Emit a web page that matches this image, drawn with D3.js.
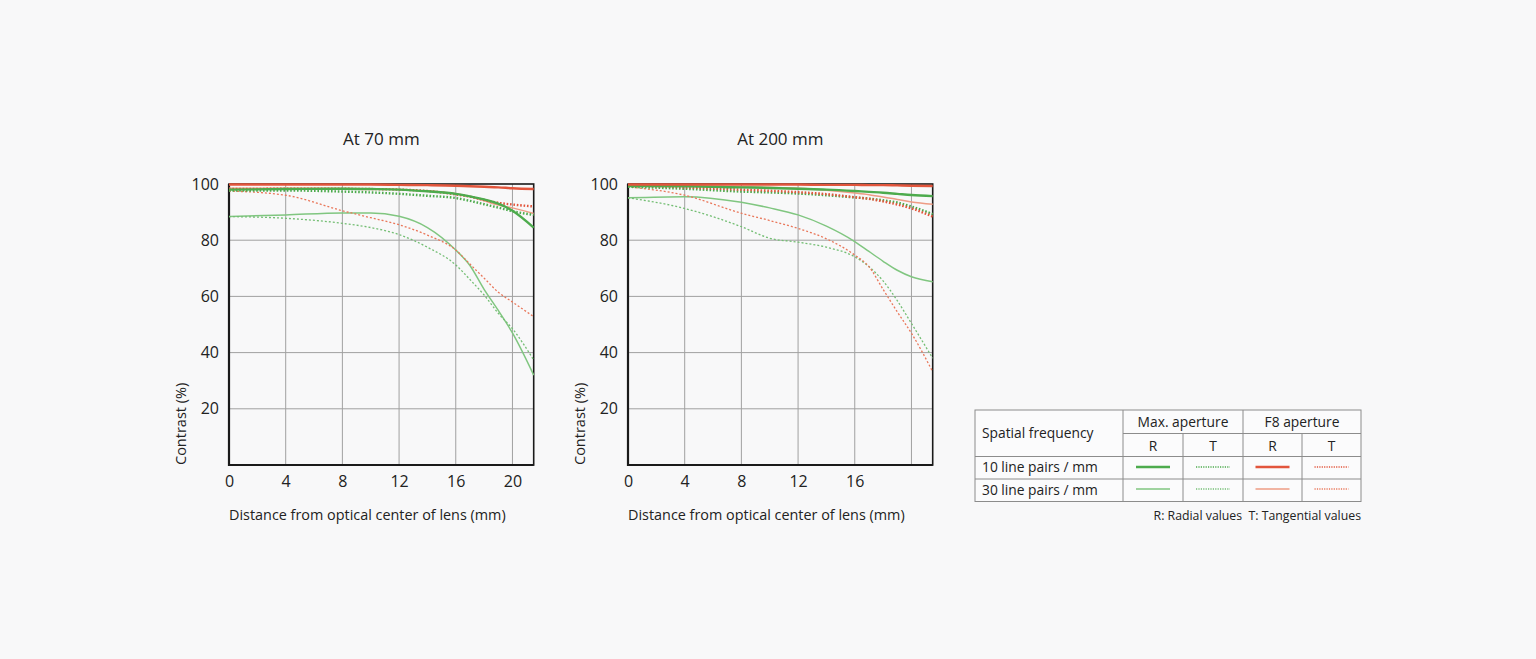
<!DOCTYPE html>
<html>
<head>
<meta charset="utf-8">
<script src="https://cdn.jsdelivr.net/npm/d3@7"></script>
<style>
  body { margin: 0; background: #f8f8f9; font-family: "Open Sans", sans-serif; }
  svg text { fill: #222; }
</style>
</head>
<body>
<script>
//MTF chart data (contrast in %)
var distances = [0, 4, 8, 10, 12, 14, 16, 17, 18, 19, 20, 21.5];
var yTicks = [20, 40, 60, 80, 100];
var gridX = [4, 8, 12, 16, 20];
var gridY = [20, 40, 60, 80];
var xTicks70 = [0, 4, 8, 12, 16, 20];
var xTicks200 = [0, 4, 8, 12, 16];

//At 70 mm
var t70_max10R = [98, 98.2, 98.3, 98.2, 98, 97.4, 96.5, 95.6, 94.5, 93, 90.5, 84.5];
var t70_max10T = [97.7, 97.7, 97.3, 97, 96.5, 95.8, 95, 94, 92.8, 91.6, 90.3, 89];
var t70_f810R = [99.8, 99.8, 99.8, 99.8, 99.7, 99.6, 99.4, 99.2, 99, 98.8, 98.5, 98.2];
var t70_f810T = [98.2, 98.3, 98.3, 98.2, 98, 97.5, 96.3, 95.5, 94.3, 93.3, 92.7, 92];
var t70_max30R = [88.4, 89, 89.7, 89.7, 88.5, 84.5, 76.5, 71, 62.5, 55, 47, 32];
var t70_max30T = [88.4, 87.8, 86, 84.5, 82, 77.5, 71.2, 66, 60.5, 54, 48.5, 37.4];
var t70_f830R = [98.5, 98.5, 98.4, 98.3, 98, 97.5, 96.5, 95.5, 94, 92.5, 91.5, 89.5];
var t70_f830T = [97.5, 96, 90.5, 88, 85.5, 81.8, 76.5, 71.5, 66.5, 61.5, 58, 52.8];

//At 200 mm
var t200_max10R = [99.3, 99.2, 98.8, 98.6, 98.3, 98, 97.5, 97.2, 96.9, 96.5, 96.1, 95.7];
var t200_max10T = [99, 98.3, 97.3, 97, 96.6, 96, 95.2, 94.8, 94.2, 93.4, 92, 89.3];
var t200_f810R = [99.8, 99.8, 99.8, 99.8, 99.8, 99.7, 99.7, 99.6, 99.6, 99.5, 99.4, 99.3];
var t200_f810T = [99.5, 98.8, 98, 97.6, 97.1, 96.4, 95.3, 94.7, 93.8, 92.7, 91.3, 88.4];
var t200_max30R = [95.1, 95.5, 93.5, 91.5, 89, 85, 79.5, 76, 72.5, 69.3, 67, 65.2];
var t200_max30T = [95.1, 91.3, 84.8, 80.7, 79.3, 77.5, 74.1, 70.6, 65.5, 58.5, 50.4, 38];
var t200_f830R = [99.3, 99.2, 99, 98.8, 98.5, 97.8, 96.8, 96.2, 95.4, 94.5, 93.6, 92.8];
var t200_f830T = [99, 96, 89.6, 87, 84.2, 80.5, 74.7, 70.6, 62.5, 54.5, 46.9, 33.2];

//line looks
var styles = {
  max10R: { color: "#4dab4d", width: 2.4, dash: null },
  max10T: { color: "#4dab4d", width: 2.4, dash: "1.6,1.8" },
  f810R:  { color: "#e2553c", width: 2.4, dash: null },
  f810T:  { color: "#e2553c", width: 2.4, dash: "1.6,1.8" },
  max30R: { color: "#80c680", width: 1.5, dash: null },
  max30T: { color: "#74be74", width: 1.3, dash: "2,2" },
  f830R:  { color: "#ee9c85", width: 1.5, dash: null },
  f830T:  { color: "#e9775a", width: 1.3, dash: "2,2" }
};

var series70 = [
  ["max30R", t70_max30R], ["max30T", t70_max30T], ["f830T", t70_f830T], ["f830R", t70_f830R],
  ["max10T", t70_max10T], ["f810T", t70_f810T], ["max10R", t70_max10R], ["f810R", t70_f810R]
];
var series200 = [
  ["max30R", t200_max30R], ["max30T", t200_max30T], ["f830T", t200_f830T], ["f830R", t200_f830R],
  ["max10T", t200_max10T], ["f810T", t200_f810T], ["max10R", t200_max10R], ["f810R", t200_f810R]
];

var paper = d3.select("body")
  .append("svg")
  .attr("width", 1536)
  .attr("height", 659);

function drawChart(left, title, xTicks, series) {
  var x = d3.scaleLinear().domain([0, 21.5]).range([left, left + 304.7]);
  var y = d3.scaleLinear().domain([0, 100]).range([465, 184]);
  var g = paper.append("g");

  //grid
  g.selectAll(".vgrid").data(gridX).enter()
    .append("line")
    .attr("x1", d => x(d)).attr("x2", d => x(d))
    .attr("y1", y(0)).attr("y2", y(100))
    .style("stroke", "#a0a0a0").style("stroke-width", 1);
  g.selectAll(".hgrid").data(gridY).enter()
    .append("line")
    .attr("x1", x(0)).attr("x2", x(21.5))
    .attr("y1", d => y(d)).attr("y2", d => y(d))
    .style("stroke", "#a0a0a0").style("stroke-width", 1);

  //frame
  g.append("rect")
    .attr("x", x(0)).attr("y", y(100))
    .attr("width", x(21.5) - x(0)).attr("height", y(0) - y(100))
    .style("fill", "none").style("stroke", "#1a1a1a").style("stroke-width", 1.6);
  g.append("path")
    .attr("d", "M" + x(0) + "," + y(100) + "V" + y(0) + "H" + x(21.5))
    .style("fill", "none").style("stroke", "#1a1a1a").style("stroke-width", 2.2);

  //curves
  var line = d3.line()
    .x((d, i) => x(distances[i]))
    .y(d => y(d))
    .curve(d3.curveMonotoneX);
  series.forEach(function (s) {
    var st = styles[s[0]];
    g.append("path")
      .attr("d", line(s[1]))
      .style("fill", "none")
      .style("stroke", st.color)
      .style("stroke-width", st.width)
      .style("stroke-dasharray", st.dash);
  });

  //axes
  var ay = g.append("g").attr("transform", "translate(" + x(0) + ",0)")
    .call(d3.axisLeft(y).tickValues(yTicks).tickSize(0).tickPadding(10));
  var ax = g.append("g").attr("transform", "translate(0," + y(0) + ")")
    .call(d3.axisBottom(x).tickValues(xTicks).tickSize(0).tickPadding(11));
  [ay, ax].forEach(function (a) {
    a.select(".domain").remove();
    a.selectAll("text")
      .style("font-family", "'Open Sans', sans-serif")
      .style("font-size", "16px")
      .style("fill", "#222");
  });

  //titles
  g.append("text")
    .attr("x", (x(0) + x(21.5)) / 2)
    .attr("y", 145)
    .attr("text-anchor", "middle")
    .style("font-size", "17px")
    .text(title);
  g.append("text")
    .attr("x", x(0))
    .attr("y", 520)
    .style("font-size", "14.4px")
    .text("Distance from optical center of lens (mm)");
  g.append("text")
    .attr("transform", "translate(" + (x(0) - 43) + "," + y(0) + ") rotate(-90)")
    .attr("text-anchor", "start")
    .style("font-size", "14.5px")
    .text("Contrast (%)");
}

drawChart(229, "At 70 mm", xTicks70, series70);
drawChart(628, "At 200 mm", xTicks200, series200);

//Legend table
var tl = 975, tr = 1361, tt = 410, tb = 501.5;
var colX = [1123, 1183, 1243, 1302];
var rowY = [433.5, 456.5, 479];
var legend = paper.append("g");
var gridStroke = "#8c8c8c";

legend.append("rect")
  .attr("x", tl).attr("y", tt).attr("width", tr - tl).attr("height", tb - tt)
  .style("fill", "#fbfbfc").style("stroke", gridStroke).style("stroke-width", 1);
legend.append("line").attr("x1", colX[0]).attr("x2", tr).attr("y1", rowY[0]).attr("y2", rowY[0])
  .style("stroke", gridStroke);
[rowY[1], rowY[2]].forEach(function (yy) {
  legend.append("line").attr("x1", tl).attr("x2", tr).attr("y1", yy).attr("y2", yy)
    .style("stroke", gridStroke);
});
[colX[0], colX[2]].forEach(function (xx) {
  legend.append("line").attr("x1", xx).attr("x2", xx).attr("y1", tt).attr("y2", tb)
    .style("stroke", gridStroke);
});
[colX[1], colX[3]].forEach(function (xx) {
  legend.append("line").attr("x1", xx).attr("x2", xx).attr("y1", rowY[0]).attr("y2", tb)
    .style("stroke", gridStroke);
});

var headers = ["Max. aperture", "F8 aperture"];
var subHeaders = ["R", "T", "R", "T"];
var rowLabels = ["10 line pairs / mm", "30 line pairs / mm"];
var legendKeys = [["max10R", "max10T", "f810R", "f810T"], ["max30R", "max30T", "f830R", "f830T"]];
var legendFont = "13.8px";

legend.append("text").attr("x", 982).attr("y", 438).style("font-size", legendFont).text("Spatial frequency");
headers.forEach(function (h, i) {
  legend.append("text")
    .attr("x", i == 0 ? (colX[0] + colX[2]) / 2 : (colX[2] + tr) / 2)
    .attr("y", 426.5).attr("text-anchor", "middle")
    .style("font-size", legendFont).text(h);
});
var cellMid = [(colX[0] + colX[1]) / 2, (colX[1] + colX[2]) / 2, (colX[2] + colX[3]) / 2, (colX[3] + tr) / 2];
subHeaders.forEach(function (s, i) {
  legend.append("text").attr("x", cellMid[i]).attr("y", 451).attr("text-anchor", "middle")
    .style("font-size", legendFont).text(s);
});
rowLabels.forEach(function (r, j) {
  var yy = j == 0 ? 472 : 494.5;
  legend.append("text").attr("x", 982).attr("y", yy).style("font-size", legendFont).text(r);
  legendKeys[j].forEach(function (k, i) {
    var st = styles[k];
    legend.append("line")
      .attr("x1", cellMid[i] - 17).attr("x2", cellMid[i] + 17)
      .attr("y1", j == 0 ? 467 : 489).attr("y2", j == 0 ? 467 : 489)
      .style("stroke", st.color)
      .style("stroke-width", st.dash ? Math.min(st.width, 1.3) : st.width)
      .style("stroke-dasharray", st.dash ? "1.2,1.2" : null);
  });
});
legend.append("text").attr("x", tr).attr("y", 520).attr("text-anchor", "end")
  .style("font-size", "12.3px").style("white-space", "pre")
  .text("R: Radial values  T: Tangential values");
</script>
</body>
</html>
